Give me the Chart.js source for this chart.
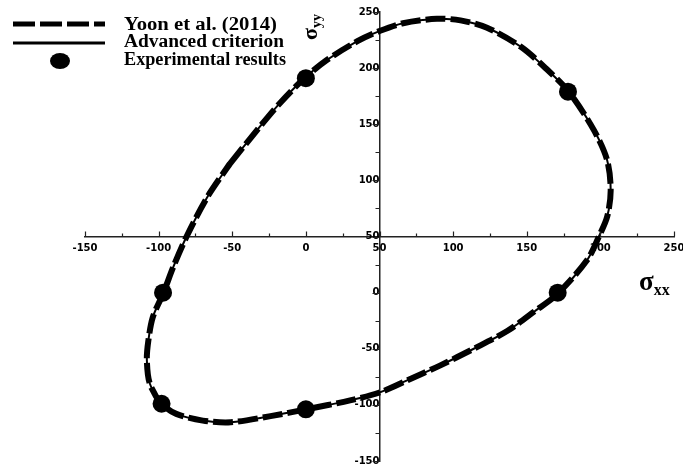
<!DOCTYPE html>
<html>
<head>
<meta charset="utf-8">
<script src="https://cdn.jsdelivr.net/npm/chart.js@4.4.1/dist/chart.umd.min.js"></script>
<style>
  html, body { margin: 0; padding: 0; background: #fff; }
  #wrap { width: 683px; height: 472px; }
</style>
</head>
<body>
<div id="wrap"><canvas id="chart" width="683" height="472"></canvas></div>
<script>
  // ── Data ────────────────────────────────────────────────────
  // yield locus (both criteria overlap in the picture)
  const locusX = [-51.5, -33, -17.5, -1, 14, 35, 50, 66, 89, 105, 123, 146, 164, 178.5, 195.5, 204.6, 207, 204.6, 199, 191, 171, 155, 137, 114, 91, 69, 50, 30, 0, -24, -51, -70, -88, -98, -106, -108, -107, -104, -97, -90, -81, -67, -51.5];
  const locusY = [115, 145, 169, 191, 207, 224, 233, 240, 244, 242.5, 236, 219, 198.5, 179, 145, 118, 91, 67.5, 50, 29, -1, -17, -34, -50, -65, -78, -89, -96, -104, -110, -115.5, -114, -108, -99, -81, -60, -43, -22, -1, 23, 50, 85, 115];

  const expX = [0, 178, -97, 171, -98, 0];
  const expY = [191, 179, 0, 0, -99, -104];

  const xTicks = [-150, -100, -50, 0, 50, 100, 150, 200, 250];
  const yTicks = [-150, -100, -50, 0, 50, 100, 150, 200, 250];

  const seriesNames = ['Yoon et al. (2014)', 'Advanced criterion', 'Experimental results'];

  // axes cross here
  const crossX = 50;
  const crossY = 50;

  const ink       = '#000';
  const axisColor = '#222';
  const tickFont  = { family: "'DejaVu Sans', sans-serif", size: 10, weight: 'bold' };
  const serif     = "'Liberation Serif', 'Times New Roman', serif";
  // legend text widths as measured on the reference (px)
  const legendTextW = [153, 160, 162];

  const toPts = (xs, ys) => xs.map((v, i) => ({ x: v, y: ys[i] }));
  // positioned axes: keep the chart area exactly where layout.padding says
  const noPad = s => { s.paddingLeft = s.paddingRight = s.paddingTop = s.paddingBottom = 0; };

  // ── tick marks (major + minor), drawn from the scales ───────
  const axisTicks = {
    id: 'axisTicks',
    afterDraw(chart) {
      const { ctx, scales: { x, y } } = chart;
      const xAxisPx = y.getPixelForValue(crossY);
      const yAxisPx = x.getPixelForValue(crossX);
      ctx.save();
      ctx.strokeStyle = axisColor;
      ctx.lineWidth = 1.2;
      ctx.beginPath();
      xTicks.forEach((v, i) => {
        const px = Math.round(x.getPixelForValue(v)) + 0.5;
        ctx.moveTo(px, xAxisPx); ctx.lineTo(px, xAxisPx - 5);
        if (i < xTicks.length - 1) {
          const pm = Math.round(x.getPixelForValue((v + xTicks[i + 1]) / 2)) + 0.5;
          ctx.moveTo(pm, xAxisPx); ctx.lineTo(pm, xAxisPx - 3);
        }
      });
      yTicks.forEach((v, i) => {
        const py = Math.round(y.getPixelForValue(v)) + 0.5;
        ctx.moveTo(yAxisPx, py); ctx.lineTo(yAxisPx - 7, py);
        if (i < yTicks.length - 1) {
          const pm = Math.round(y.getPixelForValue((v + yTicks[i + 1]) / 2)) + 0.5;
          ctx.moveTo(yAxisPx, pm); ctx.lineTo(yAxisPx - 4, pm);
        }
      });
      ctx.stroke();
      ctx.restore();
    }
  };

  // ── legend top-left + axis titles ───────────────────────────
  const annotations = {
    id: 'annotations',
    afterDraw(chart) {
      const ctx = chart.ctx;
      ctx.save();
      ctx.strokeStyle = ink;
      ctx.fillStyle = ink;

      // dashed sample
      ctx.lineWidth = 5;
      ctx.setLineDash([22, 5]);
      ctx.beginPath(); ctx.moveTo(13, 24); ctx.lineTo(105, 24); ctx.stroke();
      // solid sample
      ctx.setLineDash([]);
      ctx.lineWidth = 3;
      ctx.beginPath(); ctx.moveTo(13, 43); ctx.lineTo(105, 43); ctx.stroke();
      // marker sample
      ctx.beginPath(); ctx.ellipse(60, 61, 10, 8, 0, 0, Math.PI * 2); ctx.fill();

      ctx.font = 'bold 18px ' + serif;
      ctx.textBaseline = 'alphabetic';
      ctx.textAlign = 'left';
      [30, 47, 65].forEach((base, i) => {
        const w = ctx.measureText(seriesNames[i]).width;
        ctx.save();
        ctx.translate(124, base);
        ctx.scale(legendTextW[i] / w, 1);
        ctx.fillText(seriesNames[i], 0, 0);
        ctx.restore();
      });

      // σxx
      ctx.font = 'bold 27px ' + serif;
      ctx.fillText('σ', 639, 290);
      let w = ctx.measureText('σ').width;
      ctx.font = 'bold 16px ' + serif;
      ctx.fillText('xx', 639 + w, 295);

      // σyy (rotated)
      ctx.translate(317, 40);
      ctx.rotate(-Math.PI / 2);
      ctx.font = 'bold 22px ' + serif;
      ctx.fillText('σ', 0, 0);
      w = ctx.measureText('σ').width;
      ctx.font = 'bold 14px ' + serif;
      ctx.fillText('yy', w, 4);
      ctx.restore();
    }
  };

  new Chart(document.getElementById('chart'), {
    type: 'scatter',
    data: {
      datasets: [
        {
          label: seriesNames[2],
          data: toPts(expX, expY),
          backgroundColor: ink,
          borderColor: ink,
          pointRadius: 9,
          pointBorderWidth: 0,
          showLine: false
        },
        {
          label: seriesNames[0],
          data: toPts(locusX, locusY),
          showLine: true,
          borderColor: ink,
          borderWidth: 6,
          borderDash: [20, 5],
          borderCapStyle: 'butt',
          tension: 0.3,
          pointRadius: 0,
          fill: false
        },
        {
          label: seriesNames[1],
          data: toPts(locusX, locusY),
          showLine: true,
          borderColor: ink,
          borderWidth: 2,
          tension: 0.3,
          pointRadius: 0,
          fill: false
        }
      ]
    },
    options: {
      responsive: false,
      devicePixelRatio: 1,
      animation: false,
      layout: { padding: { left: 85, top: 12, right: 9, bottom: 11 } },
      plugins: {
        legend: { display: false },
        tooltip: { enabled: false }
      },
      scales: {
        x: {
          type: 'linear',
          min: xTicks[0],
          max: xTicks[xTicks.length - 1],
          position: { y: crossY },
          afterBuildTicks: s => { s.ticks = xTicks.map(v => ({ value: v })); },
          afterFit: noPad,
          grid: { display: true, drawOnChartArea: false, drawTicks: false },
          border: { display: true, color: axisColor, width: 1.5 },
          ticks: { color: ink, font: tickFont, padding: 6, maxRotation: 0, autoSkip: false }
        },
        y: {
          type: 'linear',
          min: yTicks[0],
          max: yTicks[yTicks.length - 1],
          position: { x: crossX },
          afterBuildTicks: s => { s.ticks = yTicks.map(v => ({ value: v })); },
          afterFit: noPad,
          grid: { display: true, drawOnChartArea: false, drawTicks: false },
          border: { display: true, color: axisColor, width: 1.5 },
          ticks: { color: ink, font: tickFont, padding: 9, autoSkip: false }
        }
      }
    },
    plugins: [axisTicks, annotations]
  });
</script>
</body>
</html>
